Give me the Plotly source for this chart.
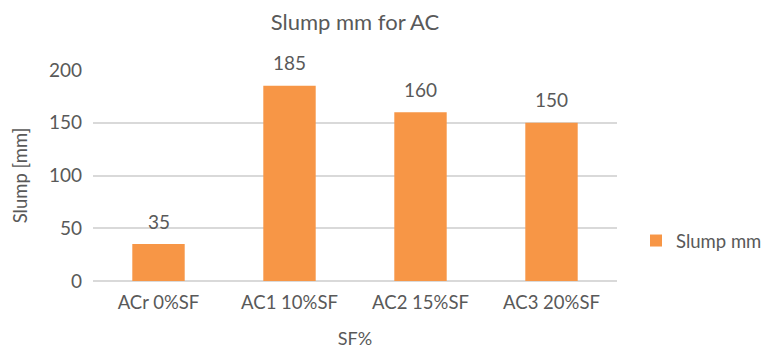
import plotly.graph_objects as go

categories = ["ACr 0%SF", "AC1 10%SF", "AC2 15%SF", "AC3 20%SF"]
slump = [35, 185, 160, 150]
series_name = "Slump mm"

FONT = "Lato, Open Sans, sans-serif"
TXT = "#595959"

fig = go.Figure()
fig.add_trace(go.Bar(
    x=categories, y=slump, name=series_name,
    marker=dict(color="#F79646", line=dict(width=0)),
    showlegend=True,
))

for c, v in zip(categories, slump):
    fig.add_annotation(x=c, y=v, text=str(v), showarrow=False,
                       xref="x", yref="y", yanchor="middle", yshift=23,
                       font=dict(size=19, color=TXT, family=FONT))

fig.update_layout(
    width=771, height=354,
    margin=dict(l=93, r=154, t=70, b=73, autoexpand=False),
    paper_bgcolor="white", plot_bgcolor="white",
    bargap=0.6,
    font=dict(family=FONT, color=TXT, size=18),
    title=dict(text="Slump mm for AC", x=0.5, xref="paper", xanchor="center",
               y=1 - 22 / 354, yanchor="middle",
               font=dict(size=22, color=TXT, family=FONT)),
    showlegend=True,
    legend=dict(xref="container", yref="container", x=636 / 771, y=1 - 241 / 354,
                xanchor="left", yanchor="middle",
                font=dict(size=18.5, color=TXT, family=FONT),
                itemwidth=30, bgcolor="rgba(0,0,0,0)"),
    xaxis=dict(title=dict(text="SF%", font=dict(size=18, color=TXT), standoff=20),
               showgrid=False, showline=False, ticks="",
               ticklabelstandoff=8,
               tickfont=dict(size=18.5, color=TXT)),
    yaxis=dict(title=dict(text="Slump [mm]", font=dict(size=18.5, color=TXT), standoff=16),
               range=[0, 200], tick0=0, dtick=50,
               showgrid=True, gridcolor="#D9D9D9", gridwidth=1.5,
               zeroline=True, zerolinecolor="#D9D9D9", zerolinewidth=1.5,
               showline=False, ticks="", ticklabelstandoff=10,
               tickfont=dict(size=19, color=TXT)),
)

fig.write_html("out.html")
